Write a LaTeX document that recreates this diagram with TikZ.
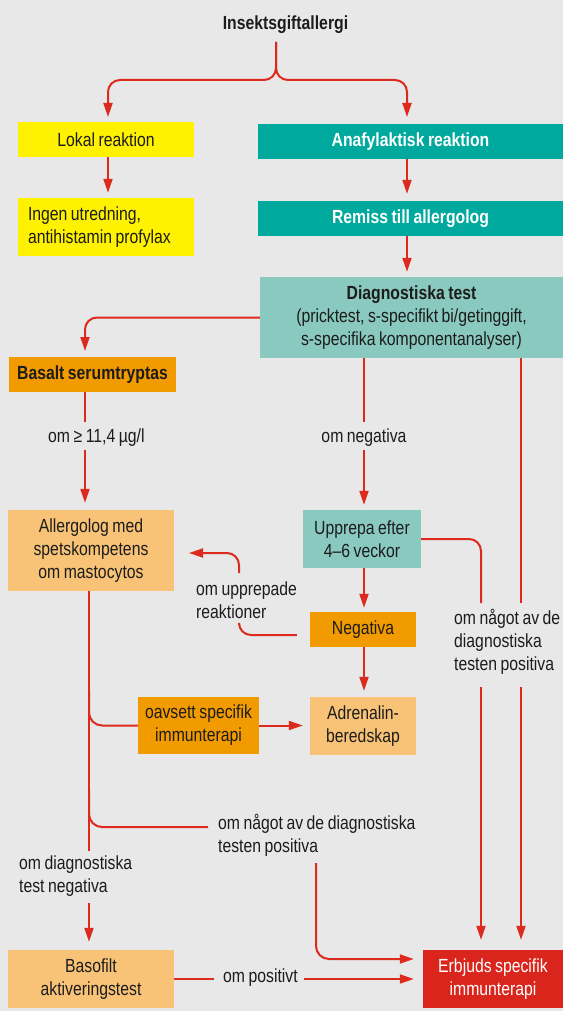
\documentclass[tikz,border=0pt]{standalone}
\usepackage{fontspec}
\setmainfont{Liberation Sans}[FakeStretch=0.83,WordSpace=0.8]
\usetikzlibrary{arrows.meta,calc}
\definecolor{bg}{HTML}{E8E8E8}
\definecolor{yel}{HTML}{FFF200}
\definecolor{teal}{HTML}{00A99D}
\definecolor{lteal}{HTML}{89C9C0}
\definecolor{orng}{HTML}{F29B00}
\definecolor{lorng}{HTML}{F8C376}
\definecolor{redbox}{HTML}{DA251D}
\definecolor{redline}{HTML}{DC2A1E}
\definecolor{ink}{HTML}{1C1C1C}
\begin{document}
\begin{tikzpicture}[x=1pt,y=-1pt,
  every node/.style={font=\fontsize{19}{23}\selectfont, text=ink},
  box/.style={inner sep=0pt, align=center},
  lbl/.style={inner sep=0pt, align=left},
  line/.style={draw=redline, line width=2pt},
  arr/.style={line, -{Triangle[length=14pt,width=9pt]}}]
\fill[bg] (0,0) rectangle (563,1011);
\useasboundingbox (0,0) rectangle (563,1011);

% boxes
\node[box, fill=yel, minimum width=176pt, minimum height=35pt] (lokal) at (106,139.5) {Lokal reaktion};
\node[box, fill=yel, minimum width=176pt, minimum height=58pt, text width=156pt, inner xsep=10pt, align=flush left] (ingen) at (106,227) {Ingen utredning,\\antihistamin profylax};
\node[box, fill=teal, minimum width=305pt, minimum height=35pt, text=white, font=\fontsize{19}{23}\selectfont\bfseries] (ana) at (410.5,141.5) {Anafylaktisk reaktion};
\node[box, fill=teal, minimum width=305pt, minimum height=35pt, text=white, font=\fontsize{19}{23}\selectfont\bfseries] (remiss) at (410.5,218.5) {Remiss till allergolog};
\node[box, fill=lteal, minimum width=303pt, minimum height=81pt] (diag) at (411.5,317.5) {\textbf{Diagnostiska test}\\(pricktest, s-specifikt bi/getinggift,\\s-specifika komponentanalyser)};
\node[box, fill=orng, minimum width=167pt, minimum height=35pt, font=\fontsize{19}{23}\selectfont\bfseries] (basalt) at (92.5,374.5) {Basalt serumtryptas};
\node[box, fill=lorng, minimum width=166pt, minimum height=81pt] (allerg) at (91,550.5) {Allergolog med\\spetskompetens\\om mastocytos};
\node[box, fill=lteal, minimum width=118pt, minimum height=58pt] (upp) at (362,539) {Upprepa efter\\4--6 veckor};
\node[box, fill=orng, minimum width=106pt, minimum height=35pt] (neg) at (363,629.5) {Negativa};
\node[box, fill=lorng, minimum width=106pt, minimum height=58pt] (adr) at (363,726) {Adrenalin-\\beredskap};
\node[box, fill=orng, minimum width=121pt, minimum height=57pt] (oav) at (198.5,725.5) {oavsett specifik\\immunterapi};
\node[box, fill=lorng, minimum width=166pt, minimum height=58pt] (baso) at (91,979) {Basofilt\\aktiveringstest};
\node[box, fill=redbox, minimum width=140pt, minimum height=58pt, text=white] (erb) at (493,979) {Erbjuds specifik\\immunterapi};

% texts
\node[lbl, anchor=base, font=\fontsize{19}{23}\selectfont\bfseries] (title) at (285.5,30) {Insektsgiftallergi};
\node[lbl, anchor=base west] (lab1) at (48,442) {om ≥ 11,4 µg/l};
\node[lbl, anchor=base] (lab2) at (364,442) {om negativa};
\node[lbl, anchor=north west] (lab3) at (454,609) {om något av de\\diagnostiska\\testen positiva};
\node[lbl, anchor=north west] (lab4) at (196,582) {om upprepade\\reaktioner};
\node[lbl, anchor=north west] (lab5) at (218,814) {om något av de diagnostiska\\testen positiva};
\node[lbl, anchor=north west] (lab6) at (19,856) {om diagnostiska\\test negativa};
\node[lbl, anchor=base west] (lab7) at (223,982) {om positivt};

% coordinates
\coordinate (stem) at (276,42);
\coordinate (fork) at (276,80);
\coordinate (lokTip) at (108,117);
\coordinate (anaTip) at (407,117);
\coordinate (basTip) at (85,351);
\coordinate (g1a) at (85,422);
\coordinate (g1b) at (85,450);
\coordinate (g2a) at (364,422);
\coordinate (g2b) at (364,450);
\coordinate (g3a) at (521,603);
\coordinate (g3b) at (521,687);
\coordinate (g4a) at (481,603);
\coordinate (g4b) at (481,687);
\coordinate (n1) at ($(neg.west)+(-13,5.5)$);
\coordinate (g5a) at (239,625);
\coordinate (g5b) at (239,573);
\coordinate (allTip2) at (189,553);
\coordinate (g6a) at (89,851);
\coordinate (g6b) at (89,903);
\coordinate (b1) at (89,690);
\coordinate (b2) at (89,790);
\coordinate (g7) at (208,827);
\coordinate (g8) at (316,863);
\coordinate (erbTip1) at ($(erb.west)+(-9,-20)$);
\coordinate (adrTip) at ($(adr.west)+(-7,0)$);
\coordinate (g9a) at (214,979);
\coordinate (g9b) at (304,979);

% connectors
\draw[arr, rounded corners=12pt] (stem) -- (fork) -- (fork -| lokTip) -- (lokTip);
\draw[arr, rounded corners=12pt] (stem) -- (fork) -- (fork -| anaTip) -- (anaTip);
\draw[arr] (lokal.south -| lokTip) -- ($(ingen.north -| lokTip)+(0,-5)$);
\draw[arr] (ana.south -| anaTip) -- ($(remiss.north -| anaTip)+(0,-7)$);
\draw[arr] (remiss.south -| anaTip) -- ($(diag.north -| anaTip)+(0,-5)$);
\draw[arr, rounded corners=12pt] (diag.west) -- (diag.west -| basTip) -- (basTip);
\draw[line] (basalt.south -| g1a) -- (g1a);
\draw[arr] (g1b) -- ($(allerg.north -| g1b)+(0,-7)$);
\draw[line] (diag.south -| g2a) -- (g2a);
\draw[arr] (g2b) -- ($(upp.north -| g2b)+(0,-5)$);
\draw[line] (diag.south -| g3a) -- (g3a);
\draw[arr] (g3b) -- ($(erb.north -| g3b)+(0,-10)$);
\draw[line, rounded corners=12pt] (upp.east) -- (upp.east -| g4a) -- (g4a);
\draw[arr] (g4b) -- ($(erb.north -| g4b)+(0,-10)$);
\draw[arr] (upp.south -| g2a) -- ($(neg.north -| g2a)+(0,-4)$);
\draw[arr] (neg.south -| g2a) -- ($(adr.north -| g2a)+(0,-6)$);
\draw[line, rounded corners=12pt] (n1) -- (n1 -| g5a) -- (g5a);
\draw[arr, rounded corners=12pt] (g5b) -- (g5b |- allTip2) -- (allTip2);
\draw[line] (allerg.south -| g6a) -- (g6a);
\draw[arr] (g6b) -- ($(baso.north -| g6b)+(0,-8)$);
\draw[line, rounded corners=13pt] (b1) -- (oav.west -| b1) -- (oav.west);
\draw[arr] (oav.east) -- (oav.east -| adrTip);
\draw[line, rounded corners=13pt] (b2) -- (b2 |- g7) -- (g7);
\draw[arr, rounded corners=13pt] (g8) -- (g8 |- erbTip1) -- (erbTip1);
\draw[line] (baso.east) -- (g9a);
\draw[arr] (g9b) -- ($(erb.west)+(-9,0)$);
\end{tikzpicture}
\end{document}
